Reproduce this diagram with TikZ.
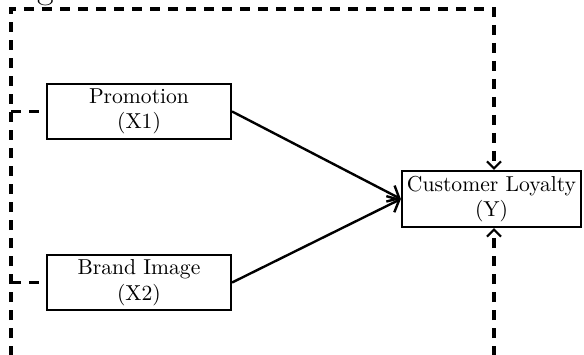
\documentclass[tikz,border=0pt]{standalone}
\usetikzlibrary{arrows.meta}
\colorlet{box edge}{black}
\tikzset{varbox/.style={draw=box edge, line width=1.1pt, minimum width=92pt, minimum height=27.5pt,
        align=center, inner sep=1pt, font=\fontsize{10.8}{12.8}\selectfont},
    effect/.style={draw=box edge, line width=1.2pt, -{Straight Barb[length=5pt,width=9pt]}},
    control/.style={draw=box edge, line width=1.6pt, dash pattern=on 5pt off 4pt},
    control arrow/.style={control, -{Straight Barb[length=3.5pt,width=7pt,line width=1.1pt]}}}

\begin{document}
\begin{tikzpicture}[x=0.5pt, y=0.5pt]
    \useasboundingbox (0,0) rectangle (584,354);
    \node[anchor=base, font=\fontsize{18}{20}\selectfont] (title) at (46,355) {g};
    \node[varbox] (x1) at (139,242.5) {Promotion\\(X1)};
    \node[varbox] (x2) at (139,71.5) {Brand Image\\(X2)};
    \node[varbox, minimum width=89.5pt, minimum height=28pt] (y) at (491.5,155)
      {Customer Loyalty\\(Y)};
    \coordinate (bottom left) at (11,-2);
    \coordinate (top left) at (11,345);
    \coordinate (top right) at (494,345);
    \coordinate (bottom right) at (494,-2);
    % direct effects
    \draw[effect] (x1.east) -- (y.west);
    \draw[effect] (x2.east) -- (y.west);
    % dashed frame
    \draw[control arrow] (bottom left) -- (top left) -- (top right) -- (top right |- y.north);
    \draw[control arrow] (bottom right) -- (bottom right |- y.south);
    \draw[control] (bottom left |- x1.west) -- (x1.west);
    \draw[control] (bottom left |- x2.west) -- (x2.west);
\end{tikzpicture}
\end{document}
